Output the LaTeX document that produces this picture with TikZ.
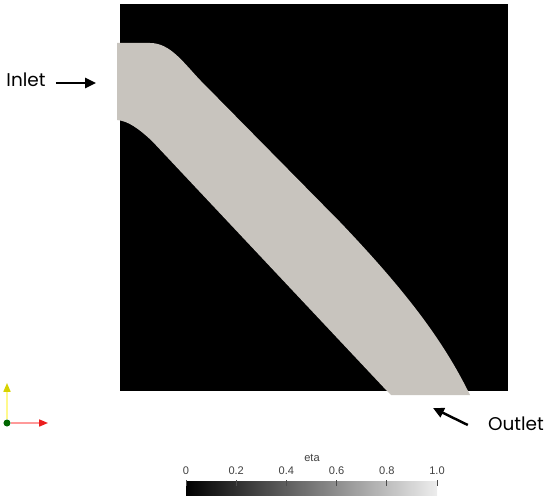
\documentclass[tikz,border=0pt]{standalone}
\usepackage{fontspec}
\newfontfamily\rotfont{Poppins}
\newfontfamily\pvfont{Liberation Sans}
\usetikzlibrary{arrows.meta}

\definecolor{gris}{RGB}{200,196,190}
\definecolor{amarillo}{RGB}{215,210,0}
\definecolor{rojo}{RGB}{235,30,30}

\begin{document}
\begin{tikzpicture}[
    x=0.02cm, y=-0.02cm,
    dominio/.style ={fill=black},
    canal/.style   ={fill=gris},
    rotulo/.style  ={font=\rotfont\fontsize{10.5}{12}\selectfont, inner sep=0pt},
    escala/.style  ={font=\pvfont\fontsize{6.3}{7}\selectfont, text=black!75, inner sep=0pt},
    fl/.style      ={-{Stealth[length=6.2pt,width=5.7pt,inset=0pt]}, line width=1.4pt},
    ejey/.style    ={-{Triangle[length=5pt,width=4pt,color=amarillo]}, draw=yellow!45, line width=0.7pt},
    ejex/.style    ={-{Triangle[length=5pt,width=4pt,color=rojo]}, draw=red!40, line width=0.7pt},
    tic/.style     ={draw=black!70, line width=0.4pt}
  ]

  \useasboundingbox (0,0) rectangle (550,499);

  % --- dominio y canal ---------------------------------------------------
  \fill[dominio] (120,4) rectangle (508,391);
  \fill[canal] (117,43) -- (150,43) .. controls (170,43) and (183,62) .. (200,80)
    -- (340,222) .. controls (400,285) and (440,335) .. (468,391)
    -- (470,395) -- (391,395) -- (387,391)
    -- (152,141) .. controls (138,128) and (128,121) .. (117,120)
    -- cycle;

  % --- entrada y salida ---------------------------------------------------
  \node[rotulo] (inlet) at (26,80) {Inlet};
  \coordinate (pin) at (96,83);
  \draw[fl] (inlet.east) ++(10,3) -- (pin);

  \node[rotulo] (outlet) at (516,424) {Outlet};
  \coordinate (pout) at (433,408);
  \draw[fl] (outlet.west) ++(-20,1) -- (pout);

  % --- triedro -----------------------------------------------------------
  \node[circle, fill=green!40!black, inner sep=0pt, minimum size=4pt] (origen) at (7,423) {};
  \coordinate (ytip) at (7,383);
  \coordinate (xtip) at (48,423);
  \draw[ejey] (origen) -- (ytip);
  \draw[ejex] (origen) -- (xtip);

  % --- barra de color ----------------------------------------------------
  \shade[left color=black, right color=white!93!black] (186,481) rectangle (437,495);
  \node[escala] (titulo) at (312,458) {eta};
  \foreach \v/\lab in {0/0, 0.2/0.2, 0.4/0.4, 0.6/0.6, 0.8/0.8, 1/1.0} {
    \draw[tic] (186+251*\v,480) -- (186+251*\v,486);
    \node[escala] (v\lab) at (186+251*\v,471) {\lab};
  }

\end{tikzpicture}
\end{document}
